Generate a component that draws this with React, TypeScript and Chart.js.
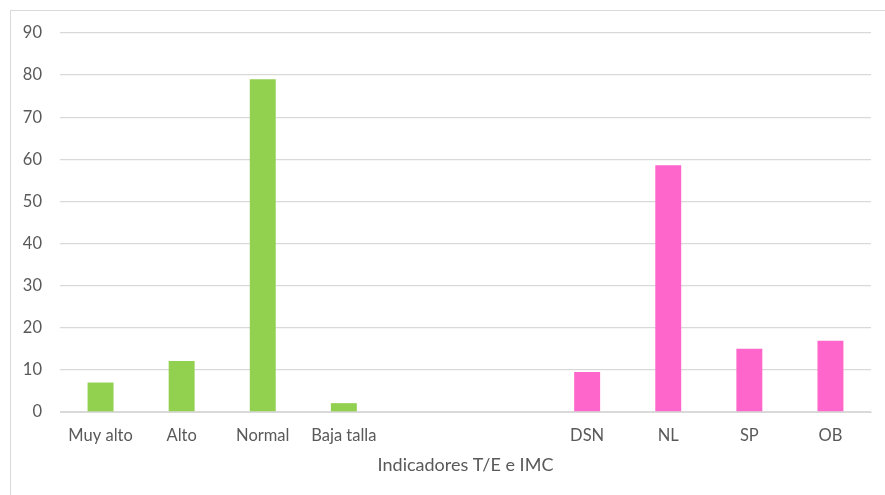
import React, { useEffect, useRef } from "react";
import { Chart, registerables } from "chart.js";

Chart.register(...registerables);

// Categories: T/E indicators, two blank slots, then IMC indicators
const categories = ["Muy alto", "Alto", "Normal", "Baja talla", "", "", "DSN", "NL", "SP", "OB"];
const values: (number | null)[] = [7, 12.1, 79, 2.1, null, null, 9.5, 58.6, 15, 16.9];
const barColors = [
  "#92D050", "#92D050", "#92D050", "#92D050",
  "#92D050", "#92D050",
  "#FF66CC", "#FF66CC", "#FF66CC", "#FF66CC",
];
const yTicks = [0, 10, 20, 30, 40, 50, 60, 70, 80, 90];
const axisTitle = "Indicadores T/E e IMC";

const FONT = "Lato, 'Open Sans', sans-serif";
const TEXT = "#595959";
const GRID = "#d9d9d9";

export default function App() {
  const ref = useRef<HTMLCanvasElement | null>(null);

  useEffect(() => {
    if (!ref.current) return;
    const chart = new Chart(ref.current, {
      type: "bar",
      data: {
        labels: categories,
        datasets: [
          {
            data: values,
            backgroundColor: barColors,
            barPercentage: 0.64,
            categoryPercentage: 0.5,
          },
        ],
      },
      options: {
        responsive: false,
        animation: false,
        layout: { padding: { left: 0, right: 14, top: 22, bottom: 0 } },
        plugins: { legend: { display: false }, tooltip: { enabled: false } },
        scales: {
          x: {
            grid: { display: false, drawTicks: false },
            border: { display: true, color: GRID, width: 1 },
            ticks: { color: TEXT, font: { family: FONT, size: 16.5 }, padding: 14, maxRotation: 0, autoSkip: false },
            title: {
              display: true,
              text: axisTitle,
              color: TEXT,
              font: { family: FONT, size: 18 },
              padding: { top: 10, bottom: 19 },
            },
            afterFit: (s: any) => {
              s.height = 83;
              s.paddingLeft = 0;
              s.paddingRight = 0;
            },
          },
          y: {
            min: 0,
            max: 90,
            afterBuildTicks: (s: any) => {
              s.ticks = yTicks.map((v) => ({ value: v }));
            },
            grid: { color: GRID, lineWidth: 1.3, drawTicks: false },
            border: { display: false },
            ticks: { color: TEXT, font: { family: FONT, size: 16.5 }, padding: 18 },
            afterFit: (s: any) => {
              s.width = 49;
              s.paddingTop = 0;
              s.paddingBottom = 0;
            },
          },
        },
      },
    });
    return () => chart.destroy();
  }, []);

  return (
    <div
      style={{
        position: "absolute",
        left: 10,
        top: 10,
        width: 880,
        height: 500,
        border: "1px solid #d9d9d9",
        background: "#fff",
      }}
    >
      <canvas ref={ref} width={874} height={484} style={{ display: "block" }} />
    </div>
  );
}
